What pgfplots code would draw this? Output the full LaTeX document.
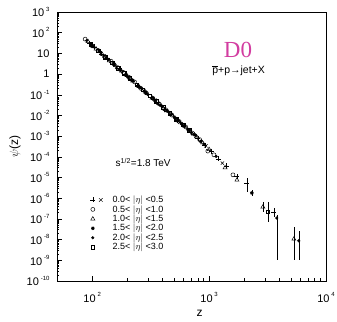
\documentclass[border=0pt]{standalone}
\usepackage{pgfplots}
\pgfplotsset{compat=1.18}
\usepackage{fontspec}
\setmainfont{Liberation Sans}
\newfontfamily\serifD{Liberation Serif}
\usetikzlibrary{plotmarks}
\definecolor{dzero}{RGB}{210,60,160}
\newcommand{\tp}[1]{10\,\raisebox{0.5em}{\fontsize{6}{6}\selectfont #1}}
\pgfplotsset{
  onemark legend/.style={legend image code/.code={\draw[##1,only marks] plot coordinates {(0pt,0pt)}; \path (17pt,0pt);}},
  twomark legend/.style={legend image code/.code={\draw[##1,only marks] plot coordinates {(0pt,0pt)};
     \draw[##1,only marks,mark=x] plot coordinates {(8pt,0pt)}; \path (17pt,0pt);}},
  ebar/.style={error bars/.cd, y dir=both, y explicit, error mark=none, error bar style={solid, black, line width=0.5pt}},
}
\begin{document}
\begin{tikzpicture}
\begin{axis}[
  name=ax,
  scale only axis, width=269pt, height=269pt,
  xmode=log, ymode=log,
  xmin=50, xmax=10000, ymin=1e-10, ymax=1e3,
  axis line style={line width=0.6pt},
  every tick/.style={black, line width=0.5pt},
  tick align=inside, tick pos=left,
  major tick length=5pt, minor tick length=2.5pt,
  xtick={100,1000,10000},
  xticklabels={\tp{2},\tp{3},\tp{4}},
  ytick={1e-10,1e-9,1e-8,1e-7,1e-6,1e-5,1e-4,1e-3,1e-2,1e-1,1,10,100,1000},
  yticklabels={\tp{-10},\tp{-9},\tp{-8},\tp{-7},\tp{-6},\tp{-5},\tp{-4},\tp{-3},\tp{-2},\tp{-1},1,10,\tp{2},\tp{3}},
  ticklabel style={font=\fontsize{11}{11}\selectfont},
  xticklabel style={yshift=-8pt},
  yticklabel style={xshift=-4pt},
  xlabel={z}, ylabel={$\psi$(z)},
  label style={font=\fontsize{12}{12}\selectfont},
  xlabel style={at={(rel axis cs:0.53,0)}, anchor=center, yshift=-32pt},
  ylabel style={at={(rel axis cs:0,0.5)}, anchor=center, yshift=42pt},
  every axis plot/.append style={black, solid, only marks, mark size=2pt, line width=0.5pt},
  legend style={at={(rel axis cs:0.112,0.327)}, anchor=north west, draw=none, fill=none,
    font=\fontsize{9}{9}\selectfont, nodes={inner sep=0.6pt}, row sep=0pt, column sep=2pt},
  legend cell align=left,
  onemark legend,
]
% 0.0<|eta|<0.5 (+)
\addplot[mark=+, mark size=2.5pt, twomark legend]
coordinates {(95,30) (105,20.5) (120,9.5) (135,5.9) (150,3.1) (170,1.85) (190,0.98) (215,0.58) (245,0.28) (280,0.155) (320,0.074) (365,0.042) (415,0.0205) (470,0.012) (535,0.0058) (610,0.0033) (700,0.00155) (800,8.0e-4) (920,3.6e-4) (1050,1.9e-4) (1200,8.0e-5) (1400,3.7e-5) (1730,1.1e-5)};
\addlegendentry{0.0< $|\eta|$ <0.5}
% 0.5-1.0 (o)
\addplot[mark=o]
coordinates {(87,49) (100,23) (112,14) (128,7.0) (145,4.2) (165,2.0) (185,1.2) (205,0.72) (230,0.42) (260,0.205) (290,0.125) (330,0.068) (375,0.036) (425,0.019) (480,0.0105) (550,0.0053) (630,0.0028) (720,0.0014) (830,6.8e-4) (975,1.9e-4) (1100,1.25e-4) (1600,1.35e-5)};
\addlegendentry{0.5< $|\eta|$ <1.0}
% 1.0-1.5 (triangle)
\addplot[mark=triangle, mark size=2.3pt]
coordinates {(92,38) (108,16.5) (122,9.0) (140,4.4) (158,2.6) (178,1.4) (198,0.85) (222,0.47) (250,0.26) (285,0.135) (325,0.07) (370,0.038) (420,0.0195) (480,0.0107) (545,0.0055) (620,0.003) (690,0.0017) (780,9.5e-4) (880,4.8e-4) (1000,2.3e-4) (1370,3.0e-5) (1730,7.6e-6)};
\addlegendentry{1.0< $|\eta|$ <1.5}
% 1.5-2.0 (star)
\addplot[mark=10-pointed star, mark options={fill=black}, mark size=1.8pt]
coordinates {(98,26) (115,12.8) (132,6.2) (152,3.0) (172,1.65) (195,0.9) (220,0.5) (255,0.23) (290,0.118) (335,0.062) (385,0.031) (440,0.0165) (505,0.0082) (580,0.0041) (660,0.0021) (750,0.00118) (850,5.6e-4)};
\addlegendentry{1.5< $|\eta|$ <2.0}
% 2.0-2.5 (dot)
\addplot[mark=*, mark size=1.3pt]
coordinates {(90,42) (103,21) (118,10.8) (138,5.0) (155,2.75) (175,1.5) (200,0.75) (225,0.46) (265,0.2) (300,0.102) (350,0.052) (400,0.026) (455,0.0138) (520,0.0068) (590,0.0038) (680,0.0018) (770,0.00105) (900,4.2e-4) (1150,1.05e-4)};
\addlegendentry{2.0< $|\eta|$ <2.5}
% 2.5-3.0 (square)
\addplot[mark=square, mark size=1.8pt]
coordinates {(97,28) (113,13.5) (130,6.5) (148,3.6) (168,1.9) (188,1.08) (210,0.62) (240,0.31) (270,0.178) (310,0.088) (355,0.047) (405,0.025) (460,0.013) (525,0.0066) (600,0.0036) (680,0.0019)};
\addlegendentry{2.5< $|\eta|$ <3.0}
% x marks (0.0-0.5)
\addplot[mark=x, mark size=2.3pt, forget plot]
coordinates {(102,22) (126,7.6) (162,2.2) (208,0.66) (275,0.16) (345,0.055) (430,0.017) (560,0.0047) (730,0.0013) (940,3.4e-4) (1300,5.0e-5)};
% points with error bars
\addplot[mark=+, mark size=2.5pt, forget plot, ebar]
coordinates {(2104,5.5e-6) += (0,4.0e-6) -= (0,3.5e-6)
             (3580,2.2e-7) += (0,1.2e-7) -= (0,0.94e-7)};
\addplot[mark=triangle, mark size=2.3pt, forget plot, ebar]
coordinates {(2884,3.8e-7) += (0,2.8e-7) -= (0,1.6e-7)
             (5309,1.07e-8) += (0,3.0e-8) -= (0,0.965e-8)};
\addplot[mark=10-pointed star, mark options={fill=black}, mark size=1.8pt, forget plot, ebar]
coordinates {(2323,1.8e-6) += (0,0.6e-6) -= (0,0.5e-6)};
\addplot[mark=*, mark size=1.3pt, forget plot, ebar]
coordinates {(3794,1.1e-7) += (0,0.45e-7) -= (0,1.09e-7)
             (5850,8.7e-9) += (0,1.7e-8) -= (0,0.765e-8)};
\addplot[mark=square, mark size=1.8pt, forget plot, ebar]
coordinates {(3177,2.2e-7) += (0,4.4e-7) -= (0,1.48e-7)};
% texts
\node[text=dzero, font=\serifD\fontsize{23}{23}\selectfont] at (rel axis cs:0.673,0.859) {D0};
\node[font=\fontsize{10.5}{10.5}\selectfont] at (rel axis cs:0.675,0.781) {$\overline{\mbox{p}}$+p→jet+X};
\node[font=\fontsize{10}{10}\selectfont, anchor=west] at (rel axis cs:0.205,0.44) {s\textsuperscript{1/2}=1.8 TeV};
\end{axis}
\pgfresetboundingbox
\path ([shift={(-57pt,12pt)}]ax.north west) rectangle ([shift={(11pt,-41pt)}]ax.south east);
\end{tikzpicture}
\end{document}
